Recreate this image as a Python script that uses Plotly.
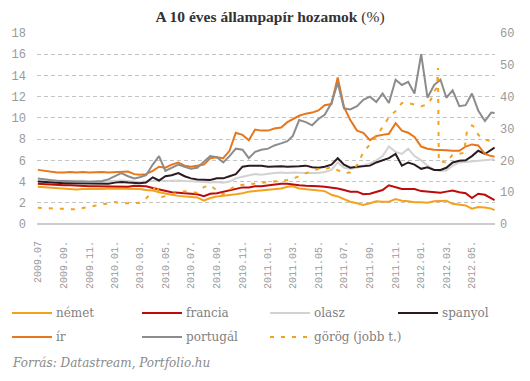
import plotly.graph_objects as go

# ---------------- data ----------------
months = [(2009, m) for m in range(7, 13)] + [(2010, m) for m in range(1, 13)] + \
         [(2011, m) for m in range(1, 13)] + [(2012, m) for m in range(1, 7)]
dates = []
for y, m in months:
    dates += [f"{y}-{m:02d}-01", f"{y}-{m:02d}-16"]
dates.append("2012-06-24")

nemet = [3.5, 3.45, 3.4, 3.35, 3.3, 3.3, 3.25, 3.3, 3.3, 3.25,
         3.3, 3.35, 3.35, 3.3, 3.3, 3.3, 3.3, 3.2, 3.15, 3.0,
         2.85, 2.75, 2.65, 2.6, 2.55, 2.5, 2.2, 2.45, 2.6, 2.65,
         2.75, 2.8, 2.9, 3.05, 3.1, 3.15, 3.2, 3.25, 3.35, 3.5,
         3.55, 3.35, 3.3, 3.2, 3.15, 3.1, 2.75, 2.6, 2.35, 2.1,
         1.95, 1.8, 1.95, 2.15, 2.1, 2.1, 2.35, 2.2, 2.15, 2.05,
         2.05, 2.0, 2.15, 2.15, 2.2, 1.9, 1.85, 1.75, 1.45, 1.6,
         1.55, 1.45, 1.3]

francia = [3.8, 3.75, 3.7, 3.7, 3.65, 3.65, 3.6, 3.6, 3.55, 3.55,
           3.55, 3.5, 3.5, 3.55, 3.5, 3.6, 3.55, 3.55, 3.4, 3.25,
           3.1, 3.0, 2.95, 2.9, 2.85, 2.8, 2.62, 2.85, 2.9, 3.05,
           3.2, 3.35, 3.45, 3.45, 3.55, 3.55, 3.65, 3.7, 3.8, 3.8,
           3.7, 3.65, 3.6, 3.6, 3.55, 3.5, 3.45, 3.35, 3.2, 3.05,
           3.05, 2.8, 2.85, 3.05, 3.2, 3.65, 3.5, 3.3, 3.3, 3.3,
           3.1, 3.05, 3.0, 2.95, 3.05, 3.15, 3.0, 2.9, 2.45, 2.85,
           2.75, 2.45, 2.25]

olasz = [4.2, 4.2, 4.15, 4.1, 4.1, 4.05, 4.05, 4.05, 4.05, 4.05,
         4.0, 4.05, 4.05, 4.1, 4.05, 4.0, 3.95, 4.0, 4.05, 4.1,
         4.05, 4.1, 4.1, 4.05, 4.05, 4.0, 3.95, 3.9, 3.95, 3.9,
         4.0, 4.3, 4.45, 4.6, 4.7, 4.65, 4.75, 4.8, 4.85, 4.8,
         4.85, 4.8, 4.8, 4.8, 4.8, 4.9, 5.1, 5.8, 5.3, 5.2,
         5.3, 5.5, 5.7, 6.0, 6.4, 7.3, 6.8, 6.6, 7.1, 6.4,
         6.0, 5.5, 5.1, 5.0, 5.05, 5.5, 5.8, 5.85, 5.9, 6.0,
         6.05, 6.1, 6.1]

spanyol = [4.0, 3.95, 3.9, 3.85, 3.85, 3.85, 3.85, 3.85, 3.85, 3.8,
           3.8, 3.8, 3.9, 3.95, 3.9, 3.85, 3.85, 3.9, 4.4, 4.1,
           4.5, 4.6, 4.8, 4.5, 4.3, 4.2, 4.15, 4.15, 4.3, 4.3,
           4.5, 4.7, 5.4, 5.5, 5.5, 5.5, 5.4, 5.45, 5.45, 5.4,
           5.4, 5.45, 5.5, 5.35, 5.3, 5.4, 5.6, 6.2, 5.6, 5.3,
           5.4, 5.45, 5.5, 5.8, 6.0, 6.2, 6.6, 5.5, 5.8, 5.6,
           5.2, 5.35, 5.1, 5.1, 5.3, 5.8, 5.95, 6.0, 6.4, 6.9,
           6.6, 7.0, 7.2]

ir = [5.1, 5.0, 4.95, 4.85, 4.85, 4.9, 4.85, 4.9, 4.85, 4.9,
      4.9, 4.85, 4.9, 4.95, 4.95, 4.7, 4.65, 4.7, 5.0, 5.4,
      5.3, 5.6, 5.8, 5.5, 5.4, 5.5, 5.6, 6.2, 6.3, 6.2,
      6.9, 8.6, 8.4, 7.9, 8.9, 8.8, 8.8, 9.0, 9.1, 9.6,
      9.9, 10.2, 10.4, 10.5, 10.7, 11.2, 11.3, 13.8, 11.0, 9.8,
      8.8, 8.6, 7.9, 8.3, 8.4, 8.5, 9.5, 8.8, 8.6, 8.2,
      7.3, 7.1, 7.0, 7.0, 6.95, 6.9, 6.9, 7.3, 7.5, 7.4,
      6.6, 6.4, 6.35]

portugal = [4.3, 4.2, 4.1, 4.05, 4.05, 4.0, 4.0, 4.0, 3.95, 4.0,
            4.05, 4.2, 4.5, 4.8, 4.5, 4.3, 4.4, 4.6, 5.6, 6.4,
            5.0, 5.3, 5.6, 5.4, 5.2, 5.3, 5.9, 6.4, 6.3, 5.8,
            6.4, 7.1, 7.0, 6.2, 6.8, 7.0, 7.1, 7.4, 7.6, 7.8,
            8.3, 9.8, 9.6, 9.3, 9.9, 10.3, 11.4, 13.3, 10.9, 10.8,
            11.1, 11.7, 12.0, 11.5, 12.3, 11.4, 13.6, 13.1, 13.4, 12.3,
            16.0, 11.9, 13.1, 13.6, 11.9, 12.6, 11.1, 11.2, 12.3, 10.7,
            9.7, 10.5, 10.45]

gorog_dates = ["2009-07-01", "2009-07-16", "2009-08-01", "2009-08-16", "2009-09-01", "2009-09-16",
               "2009-10-01", "2009-10-16", "2009-11-01", "2009-11-16", "2009-12-01", "2009-12-16",
               "2010-01-01", "2010-01-16", "2010-02-01", "2010-02-16", "2010-03-01", "2010-03-16",
               "2010-03-27", "2010-04-05", "2010-04-11", "2010-04-17", "2010-05-01", "2010-05-16",
               "2010-06-01", "2010-06-16", "2010-07-01", "2010-07-16", "2010-08-01", "2010-08-16",
               "2010-09-01", "2010-09-16", "2010-10-01", "2010-10-16", "2010-11-01", "2010-11-16",
               "2010-12-01", "2010-12-16", "2011-01-01", "2011-01-16", "2011-02-01", "2011-02-16",
               "2011-03-01", "2011-03-16", "2011-04-01", "2011-04-16", "2011-05-01", "2011-05-16",
               "2011-06-01", "2011-06-16", "2011-07-01", "2011-07-16", "2011-08-01", "2011-08-16",
               "2011-09-01", "2011-09-16", "2011-10-01", "2011-10-16", "2011-11-01", "2011-11-16",
               "2011-12-01", "2011-12-16", "2012-01-01", "2012-01-16", "2012-01-24", "2012-02-01",
               "2012-02-08", "2012-02-10", "2012-02-12", "2012-02-21", "2012-03-01", "2012-03-16",
               "2012-04-01", "2012-04-12", "2012-04-19", "2012-05-01", "2012-05-08", "2012-05-16",
               "2012-06-01", "2012-06-16", "2012-06-24"]
gorog = [5.1, 5.0, 4.8, 4.7, 4.7, 4.7,
         4.6, 5.0, 5.3, 5.8, 6.1, 6.4,
         6.9, 6.5, 6.4, 6.5, 6.7, 8.0,
         9.6, 11.5, 12.4, 8.4, 8.7, 9.4,
         9.8, 10.3, 10.0, 9.8, 11.6, 12.2,
         10.5, 9.3, 10.8, 12.0, 12.3, 12.5,
         12.8, 13.0, 13.1, 13.3, 13.6, 13.8,
         14.2, 15.0, 16.0, 16.8, 17.3, 17.3,
         17.8, 17.0, 16.0, 16.2, 18.5, 22.5,
         25.0, 27.5, 30.5, 33.5, 35.5, 38.0,
         38.0, 37.5, 37.0, 37.5, 39.0, 41.6,
         43.0, 49.0, 19.5, 19.6, 19.2, 21.8,
         22.0, 22.3, 29.0, 31.0, 30.3, 28.0,
         26.5, 26.0, 26.8]

tick_vals = ["2009-07-01", "2009-09-01", "2009-11-01", "2010-01-01", "2010-03-01", "2010-05-01",
             "2010-07-01", "2010-09-01", "2010-11-01", "2011-01-01", "2011-03-01", "2011-05-01",
             "2011-07-01", "2011-09-01", "2011-11-01", "2012-01-01", "2012-03-01", "2012-05-01"]
tick_text = ["2009.07", "2009.09.", "2009.11.", "2010.01.", "2010.03.", "2010.05.",
             "2010.07.", "2010.09.", "2010.11.", "2011.01.", "2011.03.", "2011.05.",
             "2011.07.", "2011.09.", "2011.11.", "2012.01.", "2012.03.", "2012.05."]

series = [
    ("német", nemet, "#F4A11E"),
    ("francia", francia, "#BE0A0A"),
    ("olasz", olasz, "#D2D2D2"),
    ("spanyol", spanyol, "#2B1A20"),
    ("ír", ir, "#E8761B"),
    ("portugál", portugal, "#8C8C8C"),
]
greek_name = "görög (jobb t.)"
greek_color = "#F4A11E"

# ---------------- figure ----------------
W, H = 530, 381
L, R, T, B = 37, 35, 33, 157
pw, ph = W - L - R, H - T - B


def px(x):
    return (x - L) / pw


def py(y):
    return (H - B - y) / ph


fig = go.Figure()
for name, vals, col in series:
    fig.add_trace(go.Scatter(x=dates, y=vals, name=name, mode="lines",
                             line=dict(color=col, width=2), showlegend=False))
fig.add_trace(go.Scatter(x=gorog_dates, y=gorog, name=greek_name, mode="lines", yaxis="y2",
                         line=dict(color=greek_color, width=2, dash="4px,7px"), showlegend=False))

tickfont_y = dict(family="Liberation Mono, DejaVu Sans Mono, monospace", size=12, color="#9A9A9A")
tickfont_x = dict(family="Liberation Mono, DejaVu Sans Mono, monospace", size=10, color="#9A9A9A")

fig.update_layout(
    width=W, height=H,
    margin=dict(l=L, r=R, t=T, b=B, pad=0, autoexpand=False),
    paper_bgcolor="white", plot_bgcolor="white",
    title=dict(text="<b>A 10 éves állampapír hozamok</b> (%)", x=270 / W, xanchor="center",
               y=1 - 17 / H, yanchor="middle",
               font=dict(family="Liberation Serif, serif", size=15.5, color="#333333")),
    xaxis=dict(type="date", range=["2009-06-29", "2012-06-25"], showgrid=False, zeroline=False,
               showline=False, tickmode="array", tickvals=tick_vals, ticktext=tick_text,
               tickangle=-90, tickfont=tickfont_x, ticks="", ticklabelstandoff=14,
               automargin=False),
    yaxis=dict(range=[0, 18], dtick=2, tick0=0, showgrid=True, gridcolor="#C4C4C4",
               griddash="4px,3px", gridwidth=1, zeroline=True, zerolinecolor="#CCCCCC",
               zerolinewidth=2, showline=False, tickfont=tickfont_y, ticks="",
               ticklabelstandoff=10, automargin=False),
    yaxis2=dict(range=[0, 60], dtick=10, tick0=0, overlaying="y", side="right", showgrid=False,
                zeroline=False, showline=False, tickfont=tickfont_y, ticks="",
                ticklabelstandoff=4, automargin=False),
    showlegend=False,
)

# manual legend (layout shapes + annotations)
leg_font = dict(family="DejaVu Serif, serif", size=12, color="#7F7F7F")
items = [("német", "#F4A11E", "solid", 12, 313), ("francia", "#BE0A0A", "solid", 142, 313),
         ("olasz", "#D2D2D2", "solid", 270, 313), ("spanyol", "#2B1A20", "solid", 398, 313),
         ("ír", "#E8761B", "solid", 12, 337), ("portugál", "#8C8C8C", "solid", 142, 337),
         (greek_name, greek_color, "4px,7px", 270, 337)]
for label, col, dash, x0, y0 in items:
    fig.add_shape(type="line", xref="paper", yref="paper", x0=px(x0), x1=px(x0 + 40),
                  y0=py(y0), y1=py(y0), line=dict(color=col, width=2, dash=dash))
    fig.add_annotation(xref="paper", yref="paper", x=px(x0 + 42), y=py(y0), text=label,
                       showarrow=False, xanchor="left", yanchor="middle", font=leg_font)

fig.add_annotation(xref="paper", yref="paper", x=px(10), y=py(363),
                   text="<i>Forrás: Datastream, Portfolio.hu</i>", showarrow=False,
                   xanchor="left", yanchor="middle",
                   font=dict(family="DejaVu Serif, serif", size=12, color="#8A8A8A"))

fig.write_html("out.html", config={"displayModeBar": False},
               post_script="document.body.style.margin='0px';document.body.style.overflow='hidden';")
